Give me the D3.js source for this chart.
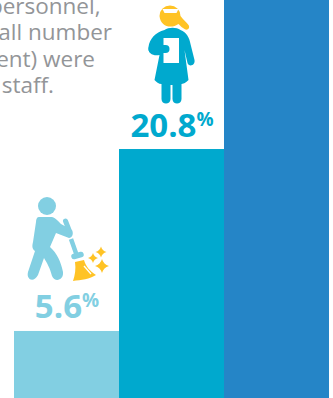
<!DOCTYPE html>
<html>
<head>
<meta charset="utf-8">
<script src="https://cdn.jsdelivr.net/npm/d3@7"></script>
<style>
  html, body { margin: 0; padding: 0; background: #fff; overflow: hidden; }
  svg { display: block; }
</style>
</head>
<body>
<script>
const categories = ["Support staff", "Nursing staff", "Medical staff"];
const shares = [5.6, 20.8, 73.6];
const barColors = ["#82cfe2", "#00a9ce", "#2585c7"];
const noteLines = ["personnel,", "all number", "ent) were", "staff."];

const width = 333, height = 398;
const svg = d3.select("body").append("svg").attr("width", width).attr("height", height);

const x = d3.scaleBand().domain(categories).range([14, 329]);
const y = d3.scaleLinear().domain([0, 100]).range([398, -799]);

// Column bars
svg.selectAll("rect.bar").data(categories).join("rect")
  .attr("class", "bar")
  .attr("x", d => x(d))
  .attr("width", x.bandwidth())
  .attr("y", (d, i) => y(shares[i]))
  .attr("height", (d, i) => y(0) - y(shares[i]))
  .attr("fill", (d, i) => barColors[i]);

// Explanatory note, set flush to its line ends
const noteEnds = [100.5, 112, 95, 54];
svg.selectAll("text.note").data(noteLines).join("text")
  .attr("class", "note")
  .attr("x", (d, i) => noteEnds[i])
  .attr("y", (d, i) => 14 + i * 26.3)
  .attr("text-anchor", "end")
  .attr("font-family", "'Open Sans', sans-serif")
  .attr("font-size", 22.5)
  .attr("fill", "#939598")
  .text(d => d);

// Percentage labels above the two shorter bars
[0, 1].forEach(i => {
  const t = svg.append("text")
    .attr("x", x(categories[i]) + x.bandwidth() / 2 + 0.5)
    .attr("y", y(shares[i]) - 12.5)
    .attr("text-anchor", "middle")
    .attr("font-family", "'Open Sans', sans-serif")
    .attr("font-weight", 700)
    .attr("font-size", 33)
    .attr("fill", barColors[i]);
  t.append("tspan").text(shares[i].toFixed(1));
  t.append("tspan").attr("font-size", 19).attr("dy", -11).text("%");
});

// Nurse pictogram
const yellow = "#ffc325";
const nurse = svg.append("g").attr("transform", `translate(${x(categories[1]) + x.bandwidth() / 2},0)`);
nurse.append("path").attr("fill", yellow)
  .attr("d", "M-12,16 A10.5,10.5 0 0 1 9,16 C12,20 15,22 17,25 C19,28 16,31 13,29 C11,28 9,26 7,24 C0,29 -11,27 -12,16 Z");
nurse.append("path").attr("fill", "#fff").attr("d", "M-9,9 L7,9 L5,13 L-7,13 Z");
nurse.append("path").attr("fill", "#00a9ce")
  .attr("d", "M-7,30 C-3,27 5,27 9,30 C15,32 18,38 19,44 L23,60 C24,66 17,67 16,63 L13,50 L17,80 C14,83 11,84 10,84 L10,99 C10,105 1,105 1,99 L1,85 L-1,85 L-1,99 C-1,105 -10,105 -10,99 L-10,84 C-13,84 -15,82 -17,80 L-12,55 C-18,56 -24,54 -23,47 C-22,39 -16,32 -7,30 Z");
nurse.append("rect").attr("x", -8).attr("y", 38).attr("width", 15.5).attr("height", 25).attr("fill", "#fff");
nurse.append("path").attr("stroke", "#00a9ce").attr("stroke-width", 8).attr("stroke-linecap", "round").attr("fill", "none")
  .attr("d", "M-19,49 L-6,49");

// Sweeper pictogram
const lightBlue = barColors[0];
const sweeper = svg.append("g").attr("transform", "translate(0,180)");
sweeper.append("circle").attr("cx", 47).attr("cy", 26).attr("r", 9).attr("fill", lightBlue);
sweeper.append("path").attr("fill", lightBlue)
  .attr("d", "M39,37 L52,37 C56,38 59,42 61,44 L72,50 C74,54 72,58 69,58 L56,53 L50,67 C57,73 61,82 63,92 C64,100 55,103 52,96 C50,88 47,83 44,78 L38,95 C34,103 26,100 28,92 L35,71 C32,69 32,66 33,62 L36,42 C36,39 37,37 39,37 Z");
sweeper.append("path").attr("stroke", lightBlue).attr("stroke-width", 5).attr("stroke-linecap", "round").attr("fill", "none")
  .attr("d", "M65.5,41 L69,50");
sweeper.append("path").attr("stroke", lightBlue).attr("stroke-width", 4.5).attr("fill", "none")
  .attr("d", "M71,59 L77,76");
sweeper.append("path").attr("stroke", lightBlue).attr("stroke-width", 5.5).attr("stroke-linecap", "round").attr("fill", "none")
  .attr("d", "M74,76.5 L81,74.5");
sweeper.append("path").attr("fill", yellow)
  .attr("d", "M75,82 L84,80 C86,87 90,91 96,95 C90,99 81,100 73,101 C75,95 76,89 75,82 Z");
sweeper.append("path").attr("stroke", "#fff").attr("stroke-width", 1.3).attr("fill", "none")
  .attr("d", "M84,86 L91,94");
const sparkle = (cx, cy, r) => {
  const k = r * 0.22;
  return `M${cx},${cy - r} Q${cx + k},${cy - k} ${cx + r},${cy} Q${cx + k},${cy + k} ${cx},${cy + r} Q${cx - k},${cy + k} ${cx - r},${cy} Q${cx - k},${cy - k} ${cx},${cy - r} Z`;
};
[[101, 72, 5.5], [93, 78, 5], [102, 86, 7]].forEach(s => {
  sweeper.append("path").attr("fill", yellow).attr("d", sparkle(...s));
});
</script>
</body>
</html>
